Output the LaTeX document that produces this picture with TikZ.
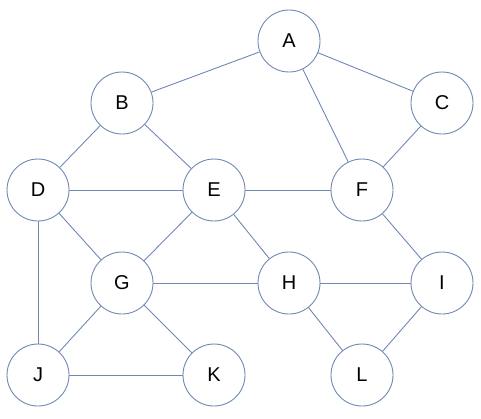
\documentclass[tikz,border=0pt]{standalone}
\usepackage{fontspec}
\setmainfont{Liberation Sans}
\usepackage{xcolor}
\definecolor{edgeblue}{RGB}{112, 136, 180}
\usepackage{tikz}
\usetikzlibrary{positioning}

\begin{document}
\begin{tikzpicture}[
  x=1pt, y=-1pt,
  vertex/.style={circle, draw=edgeblue, fill=white, line width=0.9pt, minimum size=62pt, inner sep=0pt, font=\fontsize{20}{24}\selectfont},
  link/.style={draw=edgeblue, line width=0.9pt}
]
\useasboundingbox (0,0) rectangle (481,418);

\node[vertex] (a) at (289, 41) {A};
\node[vertex] (b) at (122, 103) {B};
\node[vertex] (c) at (442, 103) {C};
\node[vertex] (d) at (38, 190) {D};
\node[vertex] (e) at (214, 190) {E};
\node[vertex] (f) at (362, 190) {F};
\node[vertex] (g) at (122, 283) {G};
\node[vertex] (h) at (289, 283) {H};
\node[vertex] (i) at (442, 283) {I};
\node[vertex] (j) at (38, 375) {J};
\node[vertex] (k) at (214, 375) {K};
\node[vertex] (l) at (362, 375) {L};

% edges
\draw[link] (a) -- (b);
\draw[link] (a) -- (c);
\draw[link] (a) -- (f);
\draw[link] (b) -- (d);
\draw[link] (b) -- (e);
\draw[link] (c) -- (f);
\draw[link] (d) -- (e);
\draw[link] (d) -- (g);
\draw[link] (d) -- (j);
\draw[link] (e) -- (f);
\draw[link] (e) -- (g);
\draw[link] (e) -- (h);
\draw[link] (f) -- (i);
\draw[link] (g) -- (h);
\draw[link] (g) -- (j);
\draw[link] (g) -- (k);
\draw[link] (h) -- (i);
\draw[link] (h) -- (l);
\draw[link] (i) -- (l);
\draw[link] (j) -- (k);
\end{tikzpicture}
\end{document}
